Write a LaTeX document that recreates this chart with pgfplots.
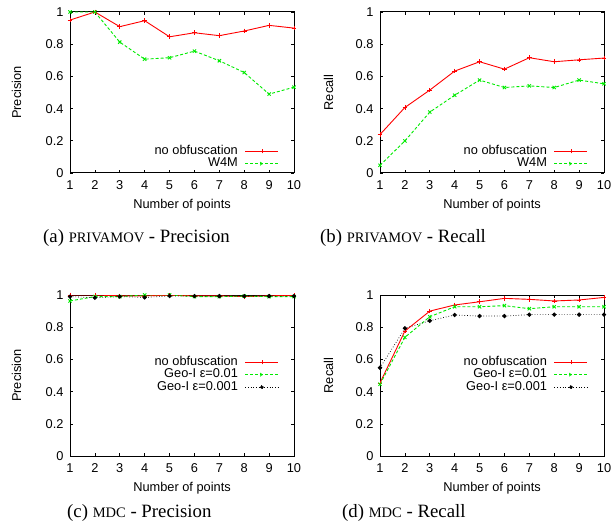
\documentclass[border=0pt]{standalone}
\usepackage{fontspec}
\setmainfont{Liberation Serif}
\newfontfamily\axfont{Liberation Sans}
\usepackage{pgfplots}
\pgfplotsset{compat=1.18}
\definecolor{gred}{RGB}{255,0,0}
\definecolor{ggreen}{RGB}{0,235,0}
\pgfplotsset{
  gp/.style={
    scale only axis, width=224pt, height=161pt,
    xmin=1, xmax=10, ymin=0, ymax=1,
    xtick={1,...,10}, ytick={0,0.2,0.4,0.6,0.8,1},
    tick align=inside, tick pos=both, major tick length=3pt,
    axis line style={line width=1pt},
    every tick/.style={black, line width=0.6pt},
    tick label style={font=\axfont\fontsize{12.8}{13}\selectfont},
    /pgf/number format/assume math mode=true,
    label style={font=\axfont\fontsize{12.8}{13}\selectfont},
    xlabel={Number of points},
    xlabel style={at={(axis description cs:0.5,-0.2)},anchor=center},
    yticklabel style={xshift=-3pt},
    xticklabel style={yshift=-4.5pt},
    legend plot pos=right, legend cell align=right,
    legend style={draw=none, fill=none, inner sep=0pt, row sep=0pt, column sep=6pt,
      font=\axfont\fontsize{12.8}{13}\selectfont,
      nodes={inner sep=1pt, text height=8.5pt, text depth=2pt}},
  },
  nob/.style={gred, line width=0.9pt, mark=+, mark size=2.3pt, mark options={solid,line width=0.6pt},
    legend image code/.code={\draw[gred,line width=0.9pt] (0pt,0pt) -- (33pt,0pt);
      \draw[gred,line width=0.6pt] (14.2pt,0pt) -- (18.8pt,0pt) (16.5pt,-2.3pt) -- (16.5pt,2.3pt);}},
  w4m/.style={ggreen, line width=0.9pt, densely dashed, mark=x, mark size=2.3pt, mark options={solid,line width=0.9pt},
    legend image code/.code={\draw[ggreen,line width=0.9pt,densely dashed] (0pt,0pt) -- (33pt,0pt);
      \draw[ggreen,line width=0.9pt] (14.9pt,-1.6pt) -- (18.1pt,1.6pt) (14.9pt,1.6pt) -- (18.1pt,-1.6pt);}},
  geo/.style={black, line width=0.7pt, dotted, mark=*, mark size=1.8pt, mark options={solid},
    legend image code/.code={\draw[black,line width=0.7pt,dotted] (0pt,0pt) -- (33pt,0pt);
      \fill[black] (16.5pt,0pt) circle[radius=1.8pt];}},
}
\begin{document}
\begin{tikzpicture}[x=1pt,y=1pt]
\useasboundingbox (0,0) rectangle (613,531);
% (a)
\begin{axis}[gp, at={(70pt,358pt)}, anchor=south west, ylabel={Precision},
  ylabel style={at={(axis description cs:-0.239,0.5)},anchor=center},
  legend style={at={(axis description cs:0.933,0.1755)},anchor=north east}]
\addplot[nob] coordinates {(1,0.950) (2,1.0) (3,0.909) (4,0.946) (5,0.846) (6,0.871) (7,0.853) (8,0.882) (9,0.917) (10,0.900)};
\addlegendentry{no obfuscation}
\addplot[w4m] coordinates {(1,1.0) (2,1.0) (3,0.813) (4,0.707) (5,0.716) (6,0.757) (7,0.697) (8,0.624) (9,0.490) (10,0.533)};
\addlegendentry{W4M}
\end{axis}
% (b)
\begin{axis}[gp, at={(380pt,358pt)}, anchor=south west, ylabel={Recall},
  ylabel style={at={(axis description cs:-0.23,0.5)},anchor=center},
  legend style={at={(axis description cs:0.929,0.1755)},anchor=north east}]
\addplot[nob] coordinates {(1,0.239) (2,0.407) (3,0.515) (4,0.633) (5,0.691) (6,0.645) (7,0.716) (8,0.691) (9,0.703) (10,0.714)};
\addlegendentry{no obfuscation}
\addplot[w4m] coordinates {(1,0.048) (2,0.199) (3,0.378) (4,0.483) (5,0.577) (6,0.531) (7,0.541) (8,0.531) (9,0.577) (10,0.554)};
\addlegendentry{W4M}
\end{axis}
% (c)
\begin{axis}[gp, at={(70pt,75pt)}, anchor=south west, ylabel={Precision},
  ylabel style={at={(axis description cs:-0.239,0.5)},anchor=center},
  legend style={at={(axis description cs:0.933,0.623)},anchor=north east}]
\addplot[nob] coordinates {(1,1.0) (2,1.0) (3,0.995) (4,0.995) (5,0.998) (6,0.995) (7,0.995) (8,0.99) (9,0.995) (10,0.998)};
\addlegendentry{no obfuscation}
\addplot[w4m] coordinates {(1,0.963) (2,0.99) (3,0.99) (4,1.0) (5,1.0) (6,0.99) (7,0.99) (8,0.993) (9,0.99) (10,0.99)};
\addlegendentry{Geo-I ε=0.01}
\addplot[geo] coordinates {(1,0.99) (2,0.983) (3,0.99) (4,0.985) (5,0.994) (6,0.993) (7,0.993) (8,0.993) (9,0.993) (10,0.993)};
\addlegendentry{Geo-I ε=0.001}
\end{axis}
% (d)
\begin{axis}[gp, at={(380pt,75pt)}, anchor=south west, ylabel={Recall},
  ylabel style={at={(axis description cs:-0.23,0.5)},anchor=center},
  legend style={at={(axis description cs:0.929,0.623)},anchor=north east}]
\addplot[nob] coordinates {(1,0.454) (2,0.776) (3,0.900) (4,0.938) (5,0.958) (6,0.979) (7,0.973) (8,0.963) (9,0.969) (10,0.985)};
\addlegendentry{no obfuscation}
\addplot[w4m] coordinates {(1,0.446) (2,0.737) (3,0.865) (4,0.927) (5,0.927) (6,0.934) (7,0.915) (8,0.927) (9,0.927) (10,0.927)};
\addlegendentry{Geo-I ε=0.01}
\addplot[geo] coordinates {(1,0.548) (2,0.793) (3,0.840) (4,0.876) (5,0.869) (6,0.869) (7,0.878) (8,0.878) (9,0.878) (10,0.878)};
\addlegendentry{Geo-I ε=0.001}
\end{axis}
% captions
\node[anchor=base west, inner sep=0pt, font=\fontsize{18.8}{22}\selectfont] at (43,288) {(a) {\fontsize{14.5}{16}\selectfont PRIVAMOV} - Precision};
\node[anchor=base west, inner sep=0pt, font=\fontsize{18.8}{22}\selectfont] at (320,288) {(b) {\fontsize{14.5}{16}\selectfont PRIVAMOV} - Recall};
\node[anchor=base west, inner sep=0pt, font=\fontsize{18.8}{22}\selectfont] at (67,14) {(c) {\fontsize{14.5}{16}\selectfont MDC} - Precision};
\node[anchor=base west, inner sep=0pt, font=\fontsize{18.8}{22}\selectfont] at (342,14) {(d) {\fontsize{14.5}{16}\selectfont MDC} - Recall};
\end{tikzpicture}
\end{document}
